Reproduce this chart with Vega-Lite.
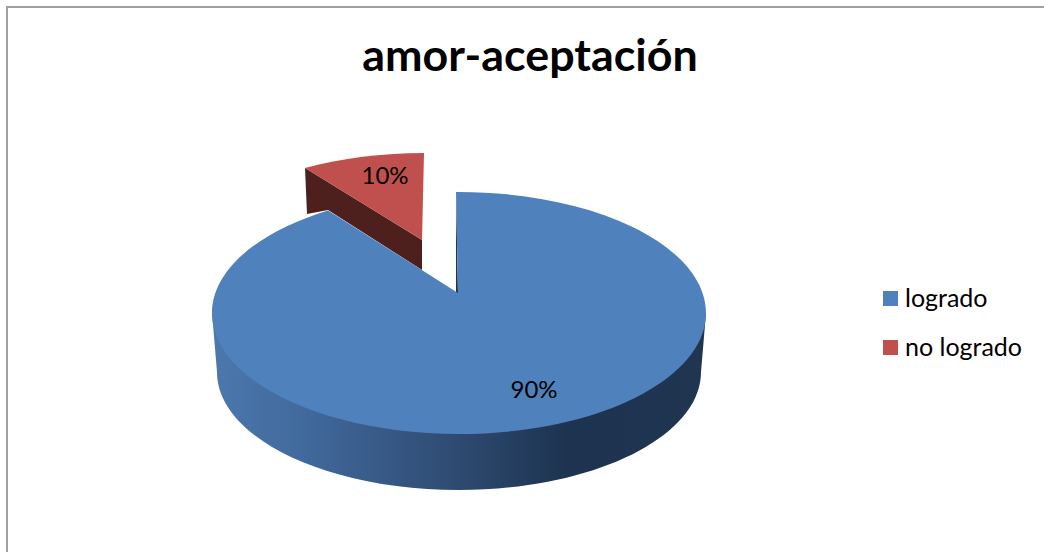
{
"$schema":"https://vega.github.io/schema/vega-lite/v6.json",
"width":1044,"height":552,"padding":0,"autosize":{"type":"none"},"background":"white",
"config":{"view":{"stroke":null},"font":"Lato"},
"title":{"text":"amor-aceptación","font":"Lato","fontSize":44.8,"fontWeight":"bold","color":"#000000","anchor":"middle","orient":"top","baseline":"alphabetic","offset":-116,"dx":8},
"data":{"values":[{"estado":"logrado","valor":90,"etiqueta":"90%"},{"estado":"no logrado","valor":10,"etiqueta":"10%"}]},
"layer":[
{"mark":{"type":"point","shape":"M -515 276 L -515 -269 L 522 -269","filled":false,"size":4,"stroke":"#a0a0a0","strokeWidth":2,"opacity":1},"transform":[{"filter":"datum.estado==='logrado'"}]},
{"mark":{"type":"point","shape":"M -217 -108 L -215 -62 L -194 -66 L -100 -6 L -100 -36 Z","filled":true,"size":4,"fill":"#4d1f1d","opacity":1},"transform":[{"filter":"datum.estado==='no logrado'"}]},
{"mark":{"type":"point","shape":"M -217 -108 A 247 121 0 0 1 -98 -123 L -100 -36 Z","filled":true,"size":4,"opacity":1},"transform":[{"filter":"datum.estado==='no logrado'"}],
 "encoding":{"color":{"field":"estado","type":"nominal","scale":{"domain":["logrado","no logrado"],"range":["#4f81bd","#c0504d"]},"legend":{"title":null,"orient":"none","legendX":878,"legendY":286,"symbolType":"square","symbolSize":225,"symbolStrokeWidth":0,"labelFont":"Lato","labelFontSize":25,"labelColor":"#000000","rowPadding":23,"labelOffset":2,"padding":0}}}},
{"mark":{"type":"point","shape":"M -310 37 L -305 96 A 242 118 0 0 0 179 96 L 184 37 Z","filled":true,"size":4,"opacity":1,"fill":{"gradient":"linear","x1":0,"y1":0,"x2":1,"y2":0,"stops":[{"offset":0,"color":"#4c78ae"},{"offset":0.2,"color":"#40689b"},{"offset":0.5,"color":"#2e4a70"},{"offset":0.72,"color":"#1d3350"},{"offset":1,"color":"#1f3550"}]}},"transform":[{"filter":"datum.estado==='logrado'"}]},
{"mark":{"type":"point","shape":"M -66 -84 L -64 17 L -66 17 Z","filled":true,"size":4,"fill":"#1f3450","opacity":1},"transform":[{"filter":"datum.estado==='logrado'"}]},
{"mark":{"type":"point","shape":"M -66 -84 A 247 121 0 0 1 184 37 A 247 121 0 0 1 -310 37 A 247 121 0 0 1 -194 -65.6 L -64 17 Z","filled":true,"size":4,"opacity":1},"transform":[{"filter":"datum.estado==='logrado'"}],
 "encoding":{"color":{"field":"estado","type":"nominal"}}},
{"mark":{"type":"text","font":"Lato","fontSize":24,"color":"#000000","baseline":"middle","align":"center","xOffset":12,"yOffset":115},"transform":[{"filter":"datum.estado==='logrado'"}],"encoding":{"text":{"field":"etiqueta"}}},
{"mark":{"type":"text","font":"Lato","fontSize":24,"color":"#000000","baseline":"middle","align":"center","xOffset":-137,"yOffset":-99},"transform":[{"filter":"datum.estado==='no logrado'"}],"encoding":{"text":{"field":"etiqueta"}}}
]
}
